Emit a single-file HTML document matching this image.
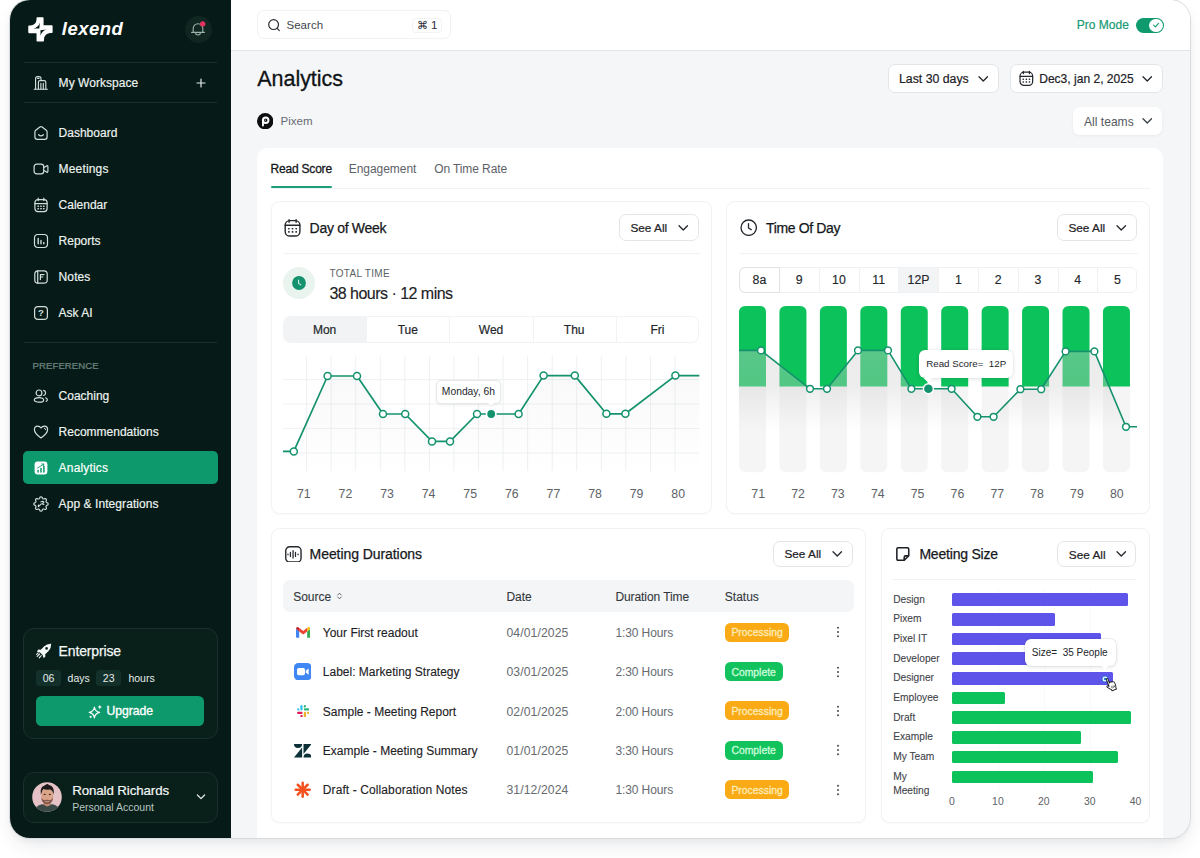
<!DOCTYPE html>
<html lang="en"><head><meta charset="utf-8"><title>Lexend Analytics</title>
<style>
*{box-sizing:border-box;margin:0;padding:0}
html,body{width:1200px;height:858px;overflow:hidden;background:#fff;font-family:"Liberation Sans", sans-serif;}
.b{position:absolute;display:block}
.t{position:absolute;white-space:nowrap;}
#win{position:absolute;left:9.7px;top:0.4px;width:1180.7px;height:837.8px;border-radius:20px;overflow:hidden;background:#f5f6f8;
  box-shadow:0 0 0 1px #d9dcdf, 0 10px 20px -4px rgba(40,50,60,.11), 0 3px 6px rgba(40,50,60,.05);}
#in{position:absolute;left:-9.7px;top:-0.4px;width:1200px;height:858px}
</style></head><body>
<div id="win"><div id="in">
<div class="b" style="left:0.00px;top:-2.00px;width:230.50px;height:862.00px;background:#061b17;"></div>
<div class="b" style="left:230.50px;top:-2.00px;width:969.50px;height:52.00px;background:#fff;border-bottom:1px solid #e2e5e8;height:52.5px"></div>
<div class="b" style="left:257.00px;top:148.00px;width:906.00px;height:722.00px;background:#fff;border-radius:10px;"></div>
<svg class="b" style="left:28.40px;top:17.00px;" width="24.8" height="24.8" viewBox="0 0 25 24.8" fill="none"><path d="M9.4 0.2 H14.9 Q15.7 0.2 15.7 1 V8.1 H24 Q24.8 8.1 24.8 8.9 V15.2 Q24.8 16 24 16 H22.6 A6.5 6.5 0 0 0 16.1 22.5 V23.8 Q16.1 24.6 15.3 24.6 H9.4 Q8.6 24.6 8.6 23.8 V16.2 H1.06 Q0.26 16.2 0.26 15.4 V9.3 Q0.26 8.5 1.06 8.5 H2.5 A6.1 6.1 0 0 0 8.6 2.4 V1 Q8.6 0.2 9.4 0.2Z" fill="#fff"/><path d="M5.5 11.5 Q10.7 10.3 11.9 5.5 L11.45 11.6Z M12.55 13.15 L19 12.6 Q13.8 13.9 12.65 18.9Z" fill="#061b17"/></svg>
<div class="t" style="top:18.60px;height:20px;line-height:20px;font-size:18.5px;color:#fff;font-weight:700;letter-spacing:0.5px;left:61.80px;font-style:italic;">lexend</div>
<div class="b" style="left:185.00px;top:16.00px;width:27.00px;height:27.00px;background:#0f2621;border-radius:50%;"></div>
<svg class="b" style="left:190.40px;top:20.80px;" width="16" height="16" viewBox="0 0 16 16" fill="none"><path d="M3.2 11.2 V7.6 a4.8 4.8 0 0 1 9.6 0 V11.2 M1.6 11.4 H14.4 M5.6 11.6 a2.4 2.4 0 0 0 4.8 0" stroke="#9eb2ab" stroke-width="1.1" stroke-linecap="round" stroke-linejoin="round"/><circle cx="12.7" cy="2.9" r="2.7" fill="#e0315f"/></svg>
<div class="b" style="left:24.00px;top:62.00px;width:192.50px;height:1.00px;background:#18302b;"></div>
<div class="b" style="left:24.00px;top:102.00px;width:192.50px;height:1.00px;background:#18302b;"></div>
<div class="b" style="left:24.00px;top:342.30px;width:192.50px;height:1.00px;background:#18302b;"></div>
<svg class="b" style="left:33.00px;top:74.50px;" width="16" height="16" viewBox="0 0 16 16" fill="none"><g stroke="#d3dedb" stroke-width="1.15" stroke-linecap="round" stroke-linejoin="round"><path d="M2.6 14 V3.6 Q2.6 1.6 4.6 1.6 H6 Q8 1.6 8 3.6 V5.4"/><path d="M4.6 3.4 H6"/><path d="M5.4 14 V7.2 Q5.4 5.6 7 5.6 H11.2 Q12.8 5.6 12.8 7.2 V14"/><path d="M7.9 8.4 V14 M10.3 8.4 V14"/><path d="M1.2 14.2 H14.4"/></g></svg>
<div class="t" style="top:72.50px;height:20px;line-height:20px;font-size:12px;color:#eef3f1;letter-spacing:0.05px;-webkit-text-stroke:0.17px #eef3f1;left:58.60px;">My Workspace</div>
<svg class="b" style="left:195.50px;top:77.50px;" width="10" height="10" viewBox="0 0 10 10" fill="none"><path d="M5 1 V9 M1 5 H9" stroke="#e6ecea" stroke-width="1.2" stroke-linecap="round"/></svg>
<div class="b" style="left:22.60px;top:451.20px;width:195.10px;height:32.80px;background:#0d996c;border-radius:5px;"></div>
<svg class="b" style="left:32.50px;top:124.50px;" width="16" height="16" viewBox="0 0 16 16" fill="none"><g stroke="#d3dedb" stroke-width="1.2" stroke-linecap="round" stroke-linejoin="round"><path d="M1.9 6.9 Q1.9 5.9 2.7 5.3 L6.9 2 Q8 1.2 9.1 2 L13.3 5.3 Q14.1 5.9 14.1 6.9 V12 Q14.1 14.4 11.7 14.4 H4.3 Q1.9 14.4 1.9 12Z"/><path d="M5.6 9.7 Q8 11.9 10.4 9.7"/></g></svg>
<div class="t" style="top:122.50px;height:20px;line-height:20px;font-size:12px;color:#eef3f1;-webkit-text-stroke:0.17px #eef3f1;left:58.60px;">Dashboard</div>
<svg class="b" style="left:32.50px;top:160.50px;" width="16" height="16" viewBox="0 0 16 16" fill="none"><g stroke="#d3dedb" stroke-width="1.2" stroke-linecap="round" stroke-linejoin="round"><rect x="1.1" y="3.2" width="9.6" height="9.6" rx="2.6"/><path d="M10.9 6.6 L13.6 4.9 Q14.9 4.3 14.9 5.7 V10.3 Q14.9 11.7 13.6 11.1 L10.9 9.4"/></g></svg>
<div class="t" style="top:158.50px;height:20px;line-height:20px;font-size:12px;color:#eef3f1;letter-spacing:0.16px;-webkit-text-stroke:0.17px #eef3f1;left:58.60px;">Meetings</div>
<svg class="b" style="left:32.50px;top:196.50px;" width="16" height="16" viewBox="0 0 16 16" fill="none"><g stroke="#d3dedb" stroke-width="1.2" stroke-linecap="round" stroke-linejoin="round"><rect x="1.9" y="2.6" width="12.2" height="12" rx="3"/><path d="M1.9 6.6 H14.1 M5.2 1.2 V3.6 M10.8 1.2 V3.6"/><path d="M5 9.2 H5.4 M7.8 9.2 H8.2 M10.6 9.2 H11 M5 11.8 H5.4 M7.8 11.8 H8.2 M10.6 11.8 H11" stroke-width="1.5"/></g></svg>
<div class="t" style="top:194.50px;height:20px;line-height:20px;font-size:12px;color:#eef3f1;-webkit-text-stroke:0.17px #eef3f1;left:58.60px;">Calendar</div>
<svg class="b" style="left:32.50px;top:232.50px;" width="16" height="16" viewBox="0 0 16 16" fill="none"><g stroke="#d3dedb" stroke-width="1.2" stroke-linecap="round" stroke-linejoin="round"><rect x="1.5" y="1.5" width="13" height="13" rx="3.4"/><path d="M5.2 5.4 V10.8 M8 7.4 V10.8 M10.8 9.4 V10.8" stroke-width="1.4"/></g></svg>
<div class="t" style="top:230.50px;height:20px;line-height:20px;font-size:12px;color:#eef3f1;-webkit-text-stroke:0.17px #eef3f1;left:58.60px;">Reports</div>
<svg class="b" style="left:32.50px;top:268.50px;" width="16" height="16" viewBox="0 0 16 16" fill="none"><g stroke="#d3dedb" stroke-width="1.2" stroke-linecap="round" stroke-linejoin="round"><rect x="1.8" y="1.8" width="12.4" height="12.4" rx="3.2"/><path d="M4.7 1.8 V14.2 M7.4 5.6 H11 M7.4 5.6 V10.6 M7.4 8 H9.8"/></g></svg>
<div class="t" style="top:266.50px;height:20px;line-height:20px;font-size:12px;color:#eef3f1;letter-spacing:0.1px;-webkit-text-stroke:0.17px #eef3f1;left:58.60px;">Notes</div>
<svg class="b" style="left:32.50px;top:304.80px;" width="16" height="16" viewBox="0 0 16 16" fill="none"><g stroke="#d3dedb" stroke-width="1.2" stroke-linecap="round" stroke-linejoin="round"><rect x="1.6" y="1.6" width="12.8" height="12.8" rx="3.2"/><text x="8" y="11.3" text-anchor="middle" font-family="Liberation Sans, sans-serif" font-size="9.6" font-weight="700" fill="#d3dedb" stroke="none">?</text></g></svg>
<div class="t" style="top:302.80px;height:20px;line-height:20px;font-size:12px;color:#eef3f1;-webkit-text-stroke:0.17px #eef3f1;left:58.60px;">Ask AI</div>
<svg class="b" style="left:32.50px;top:387.60px;" width="16" height="16" viewBox="0 0 16 16" fill="none"><g stroke="#d3dedb" stroke-width="1.2" stroke-linecap="round" stroke-linejoin="round"><circle cx="6" cy="4.9" r="2.9"/><ellipse cx="6" cy="11.9" rx="4.7" ry="2.3"/><path d="M10.6 2.3 Q12.6 2.8 12.6 4.9 Q12.6 7 10.6 7.5 M12.6 9.8 Q14.6 10.6 14.4 12 Q14.2 13 13.2 13.4"/></g></svg>
<div class="t" style="top:385.60px;height:20px;line-height:20px;font-size:12px;color:#eef3f1;-webkit-text-stroke:0.17px #eef3f1;left:58.60px;">Coaching</div>
<svg class="b" style="left:32.50px;top:423.60px;" width="16" height="16" viewBox="0 0 16 16" fill="none"><g stroke="#d3dedb" stroke-width="1.2" stroke-linecap="round" stroke-linejoin="round"><path d="M8 14 Q1.4 9.6 1.4 5.6 Q1.4 2.2 4.6 2.2 Q6.8 2.2 8 4 Q9.2 2.2 11.4 2.2 Q14.6 2.2 14.6 5.6 Q14.6 9.6 8 14Z"/><path d="M11.3 4.1 Q12.6 4.3 12.8 5.7" stroke-width="1"/></g></svg>
<div class="t" style="top:421.60px;height:20px;line-height:20px;font-size:12px;color:#eef3f1;-webkit-text-stroke:0.17px #eef3f1;left:58.60px;">Recommendations</div>
<svg class="b" style="left:32.50px;top:459.60px;" width="16" height="16" viewBox="0 0 16 16" fill="none"><rect x="1.6" y="1.6" width="12.8" height="12.8" rx="3" fill="#fff"/><path d="M5.1 12 V10.4 M8 12 V8.6 M10.9 12 V6.6" stroke="#0d996c" stroke-width="1.5" stroke-linecap="round"/><path d="M4.6 8 L10.6 4.2 M8.8 4 L10.8 4 L10.6 6" stroke="#0d996c" stroke-width="0.9" stroke-linecap="round" stroke-linejoin="round"/></svg>
<div class="t" style="top:457.60px;height:20px;line-height:20px;font-size:12px;color:#fff;letter-spacing:0.18px;-webkit-text-stroke:0.17px #fff;left:58.60px;">Analytics</div>
<svg class="b" style="left:32.50px;top:495.60px;" width="16" height="16" viewBox="0 0 16 16" fill="none"><g stroke="#d3dedb" stroke-width="1.2" stroke-linecap="round" stroke-linejoin="round"><path d="M8.00 0.90 L8.28 0.91 L8.56 0.95 L8.82 1.04 L9.06 1.28 L9.24 1.77 L9.38 2.27 L9.54 2.52 L9.74 2.65 L9.94 2.74 L10.14 2.83 L10.35 2.91 L10.55 2.99 L10.78 3.04 L11.08 2.97 L11.53 2.72 L12.00 2.49 L12.34 2.49 L12.60 2.62 L12.82 2.79 L13.02 2.98 L13.21 3.18 L13.38 3.40 L13.51 3.66 L13.51 4.00 L13.28 4.47 L13.03 4.92 L12.96 5.22 L13.01 5.45 L13.09 5.65 L13.17 5.86 L13.26 6.06 L13.35 6.26 L13.48 6.46 L13.73 6.62 L14.23 6.76 L14.72 6.94 L14.96 7.18 L15.05 7.44 L15.09 7.72 L15.10 8.00 L15.09 8.28 L15.05 8.56 L14.96 8.82 L14.72 9.06 L14.23 9.24 L13.73 9.38 L13.48 9.54 L13.35 9.74 L13.26 9.94 L13.17 10.14 L13.09 10.35 L13.01 10.55 L12.96 10.78 L13.03 11.08 L13.28 11.53 L13.51 12.00 L13.51 12.34 L13.38 12.60 L13.21 12.82 L13.02 13.02 L12.82 13.21 L12.60 13.38 L12.34 13.51 L12.00 13.51 L11.53 13.28 L11.08 13.03 L10.78 12.96 L10.55 13.01 L10.35 13.09 L10.14 13.17 L9.94 13.26 L9.74 13.35 L9.54 13.48 L9.38 13.73 L9.24 14.23 L9.06 14.72 L8.82 14.96 L8.56 15.05 L8.28 15.09 L8.00 15.10 L7.72 15.09 L7.44 15.05 L7.18 14.96 L6.94 14.72 L6.76 14.23 L6.62 13.73 L6.46 13.48 L6.26 13.35 L6.06 13.26 L5.86 13.17 L5.65 13.09 L5.45 13.01 L5.22 12.96 L4.92 13.03 L4.47 13.28 L4.00 13.51 L3.66 13.51 L3.40 13.38 L3.18 13.21 L2.98 13.02 L2.79 12.82 L2.62 12.60 L2.49 12.34 L2.49 12.00 L2.72 11.53 L2.97 11.08 L3.04 10.78 L2.99 10.55 L2.91 10.35 L2.83 10.14 L2.74 9.94 L2.65 9.74 L2.52 9.54 L2.27 9.38 L1.77 9.24 L1.28 9.06 L1.04 8.82 L0.95 8.56 L0.91 8.28 L0.90 8.00 L0.91 7.72 L0.95 7.44 L1.04 7.18 L1.28 6.94 L1.77 6.76 L2.27 6.62 L2.52 6.46 L2.65 6.26 L2.74 6.06 L2.83 5.86 L2.91 5.65 L2.99 5.45 L3.04 5.22 L2.97 4.92 L2.72 4.47 L2.49 4.00 L2.49 3.66 L2.62 3.40 L2.79 3.18 L2.98 2.98 L3.18 2.79 L3.40 2.62 L3.66 2.49 L4.00 2.49 L4.47 2.72 L4.92 2.97 L5.22 3.04 L5.45 2.99 L5.65 2.91 L5.86 2.83 L6.06 2.74 L6.26 2.65 L6.46 2.52 L6.62 2.27 L6.76 1.77 L6.94 1.28 L7.18 1.04 L7.44 0.95 L7.72 0.91 L8.00 0.90Z" stroke-width="1.15"/><path d="M5.5 10.7 L8.3 7.9 M7.9 5.9 Q9.6 4.7 11 6.2 L9.4 7.6 Q10 8.6 10.9 8.2 M5.5 10.7 Q4.9 9.9 5.6 9" stroke-width="1.1"/></g></svg>
<div class="t" style="top:493.60px;height:20px;line-height:20px;font-size:12px;color:#eef3f1;letter-spacing:0.07px;-webkit-text-stroke:0.17px #eef3f1;left:58.60px;">App &amp; Integrations</div>
<div class="t" style="top:355.80px;height:20px;line-height:20px;font-size:9.6px;color:#6f8580;letter-spacing:0.05px;-webkit-text-stroke:0.2px #6f8580;left:32.60px;">PREFERENCE</div>
<div class="b" style="left:22.60px;top:628.00px;width:195.00px;height:110.50px;background:#081f1a;border:1px solid #19312c;border-radius:11px;"></div>
<svg class="b" style="left:36.00px;top:643.00px;" width="16" height="16" viewBox="0 0 16 16" fill="none"><path d="M15.2 0.8 Q15.4 5 12.6 8 L9.2 11.2 L9.4 13.6 L7.6 15.2 L6.6 12 L4 9.4 L0.8 8.4 L2.4 6.6 L4.8 6.8 L8 3.4 Q11 0.6 15.2 0.8Z" fill="#f3f7f5"/><circle cx="10.6" cy="5.4" r="1.3" fill="#081f1a"/><path d="M3.6 11 L1.2 13.4 M5.2 12.6 L3.2 14.8 M2.2 9.8 L0.6 11.4" stroke="#f3f7f5" stroke-width="1.1" stroke-linecap="round"/></svg>
<div class="t" style="top:641.00px;height:20px;line-height:20px;font-size:14px;color:#f3f7f5;letter-spacing:-0.14px;-webkit-text-stroke:0.25px #f3f7f5;left:58.60px;">Enterprise</div>
<div class="b" style="left:36.00px;top:670.00px;width:25.20px;height:16.00px;background:#14302a;border-radius:3.5px;"></div>
<div class="t" style="top:668.20px;height:20px;line-height:20px;font-size:10.5px;color:#e6ecea;left:-51.40px;width:200px;text-align:center;">06</div>
<div class="t" style="top:668.20px;height:20px;line-height:20px;font-size:10.5px;color:#e6ecea;left:67.60px;">days</div>
<div class="b" style="left:96.00px;top:670.00px;width:25.40px;height:16.00px;background:#14302a;border-radius:3.5px;"></div>
<div class="t" style="top:668.20px;height:20px;line-height:20px;font-size:10.5px;color:#e6ecea;left:8.70px;width:200px;text-align:center;">23</div>
<div class="t" style="top:668.20px;height:20px;line-height:20px;font-size:10.5px;color:#e6ecea;left:128.40px;">hours</div>
<div class="b" style="left:35.60px;top:696.40px;width:168.60px;height:29.40px;background:#0d996c;border-radius:5.5px;"></div>
<svg class="b" style="left:87.50px;top:703.50px;" width="15" height="15" viewBox="0 0 15 15" fill="none"><path d="M6.4 3 Q7 7.4 11.6 8.4 Q7 9.4 6.4 14 Q5.8 9.4 1.2 8.4 Q5.8 7.4 6.4 3Z" stroke="#f1faf6" stroke-width="1.2" stroke-linejoin="round"/><path d="M11.8 0.8 Q12 2.8 14 3.1 Q12 3.4 11.8 5.4 Q11.6 3.4 9.6 3.1 Q11.6 2.8 11.8 0.8Z" fill="#f1faf6"/><circle cx="2.6" cy="12.8" r="1.1" fill="#f1faf6"/></svg>
<div class="t" style="top:701.00px;height:20px;line-height:20px;font-size:12.2px;color:#fff;-webkit-text-stroke:0.35px #fff;left:106.40px;">Upgrade</div>
<div class="b" style="left:22.60px;top:772.00px;width:195.00px;height:50.50px;background:#081f1a;border:1px solid #19312c;border-radius:11px;"></div>
<svg class="b" style="left:32.00px;top:782.00px;" width="30" height="30" viewBox="0 0 30 30" fill="none"><defs><clipPath id="avc"><circle cx="15" cy="15" r="14.8"/></clipPath></defs><g clip-path="url(#avc)"><rect width="30" height="30" fill="#e4c2c5"/><path d="M1.5 30 Q3 23.6 10 22.2 L20.6 22.2 Q27.4 23.6 28.6 30Z" fill="#3a4a48"/><path d="M11.5 18 H19 V22.6 Q15.3 26.2 11.5 22.6Z" fill="#c48a72"/><ellipse cx="15.2" cy="13.9" rx="6" ry="7.7" fill="#dba388"/><path d="M9.3 15.2 Q9.5 22 15.2 22.3 Q20.9 22 21.1 15.2 Q19.8 18.8 17.4 18 Q15.2 17.4 13 18 Q10.6 18.8 9.3 15.2Z" fill="#83574a"/><path d="M13.2 19.4 Q15.2 20.4 17.2 19.4" stroke="#e9c4b4" stroke-width="0.7" fill="none"/><ellipse cx="12.7" cy="12.4" rx="1.1" ry="0.55" fill="#3b2a25"/><ellipse cx="17.8" cy="12.4" rx="1.1" ry="0.55" fill="#3b2a25"/><path d="M8.9 12.8 Q7.6 4.8 12.6 3.6 Q15.2 0.9 17 3 Q22.9 4 21.6 12.8 Q20.8 8.6 18.2 7.5 Q13.6 7.9 11.4 7.1 Q9.8 8.9 8.9 12.8Z" fill="#1f1a19"/></g></svg>
<div class="t" style="top:781.00px;height:20px;line-height:20px;font-size:13.3px;color:#f3f7f5;letter-spacing:-0.1px;-webkit-text-stroke:0.2px #f3f7f5;left:72.20px;">Ronald Richards</div>
<div class="t" style="top:797.00px;height:20px;line-height:20px;font-size:10.5px;color:#b9c6c2;left:72.20px;">Personal Account</div>
<svg class="b" style="left:196.00px;top:793.00px;" width="10" height="8" viewBox="0 0 10 8" fill="none"><path d="M1.4 2 L5 5.6 L8.6 2" stroke="#e6ecea" stroke-width="1.3" stroke-linecap="round" stroke-linejoin="round"/></svg>
<div class="b" style="left:257.20px;top:10.20px;width:194.20px;height:29.10px;background:#fff;border:1px solid #f0f2f3;border-radius:7px;"></div>
<svg class="b" style="left:266.60px;top:18.40px;" width="14" height="14" viewBox="0 0 14 14" fill="none"><circle cx="6.6" cy="6.6" r="4.9" stroke="#2a2e33" stroke-width="1.2"/><path d="M10.2 10.4 L12.3 12.6" stroke="#2a2e33" stroke-width="1.2" stroke-linecap="round"/></svg>
<div class="t" style="top:15.10px;height:20px;line-height:20px;font-size:11.55px;color:#41464b;left:286.50px;">Search</div>
<div class="b" style="left:412.00px;top:18.00px;width:30.00px;height:14.50px;background:#fff;border:1px solid #f2f3f5;border-radius:4px;"></div>
<div class="t" style="top:15.30px;height:20px;line-height:20px;font-size:11.2px;color:#2a2e33;left:417.20px;font-family:"DejaVu Sans","Liberation Sans",sans-serif;">&#8984;</div>
<div class="t" style="top:15.30px;height:20px;line-height:20px;font-size:11.5px;color:#2a2e33;left:431.00px;">1</div>
<div class="t" style="top:15.30px;height:20px;line-height:20px;font-size:12px;color:#179a72;-webkit-text-stroke:0.2px #179a72;left:1076.80px;">Pro Mode</div>
<div class="b" style="left:1135.50px;top:17.80px;width:28.30px;height:15.20px;background:#0f9a6e;border-radius:8px;"></div>
<div class="b" style="left:1148.90px;top:18.50px;width:13.80px;height:13.80px;background:#fff;border-radius:50%;"></div>
<svg class="b" style="left:1151.80px;top:21.40px;" width="8" height="8" viewBox="0 0 8 8" fill="none"><path d="M1.6 4.2 L3.4 5.9 L6.5 2.3" stroke="#0f9a6e" stroke-width="1.1" stroke-linecap="round" stroke-linejoin="round"/></svg>
<div class="t" style="top:69.20px;height:20px;line-height:20px;font-size:21.5px;color:#101316;letter-spacing:-0.05px;-webkit-text-stroke:0.3px #101316;left:257.30px;">Analytics</div>
<div class="b" style="left:888.00px;top:64.00px;width:111.00px;height:29.00px;background:#fff;border:1px solid #e3e6e9;border-radius:7px;"></div>
<div class="t" style="top:69.30px;height:20px;line-height:20px;font-size:12.3px;color:#1d2125;-webkit-text-stroke:0.2px #1d2125;left:899.00px;">Last 30 days</div>
<svg class="b" style="left:978.00px;top:74.70px;" width="10.5" height="8" viewBox="0 0 10.5 8" fill="none"><path d="M1 1.8 L5.25 6 L9.5 1.8" stroke="#24282c" stroke-width="1.3" stroke-linecap="round" stroke-linejoin="round"/></svg>
<div class="b" style="left:1009.80px;top:64.00px;width:153.20px;height:29.00px;background:#fff;border:1px solid #e3e6e9;border-radius:7px;"></div>
<svg class="b" style="left:1018.90px;top:70.40px;" width="14.62" height="16.34" viewBox="0 0 17 19" fill="none"><g stroke="#24282c" stroke-width="1.45" stroke-linecap="round" stroke-linejoin="round"><rect x="1.2" y="2.6" width="14.7" height="15.4" rx="4.6"/><path d="M1.2 7.3 H15.9 M5.1 1.7 V4.2 M12.1 1.7 V4.2"/><path d="M4.75 10.7 H5.05 M8.4 10.7 H8.7 M12.05 10.7 H12.35 M4.75 13.9 H5.05 M8.4 13.9 H8.7 M12.05 13.9 H12.35" stroke-width="1.7"/></g></svg>
<div class="t" style="top:69.30px;height:20px;line-height:20px;font-size:12.05px;color:#1d2125;-webkit-text-stroke:0.2px #1d2125;left:1039.20px;">Dec3, jan 2, 2025</div>
<svg class="b" style="left:1141.60px;top:74.70px;" width="10.5" height="8" viewBox="0 0 10.5 8" fill="none"><path d="M1 1.8 L5.25 6 L9.5 1.8" stroke="#24282c" stroke-width="1.3" stroke-linecap="round" stroke-linejoin="round"/></svg>
<svg class="b" style="left:257.00px;top:112.60px;" width="16.4" height="16.4" viewBox="0 0 16.4 16.4" fill="none"><circle cx="8.2" cy="8.2" r="8.2" fill="#0c0e10"/><circle cx="8.7" cy="7.2" r="2.75" stroke="#fff" stroke-width="1.9"/><path d="M5.95 7.2 V12.6" stroke="#fff" stroke-width="1.9" stroke-linecap="round"/><circle cx="8.3" cy="7.1" r="0.7" fill="#fff"/></svg>
<div class="t" style="top:110.70px;height:20px;line-height:20px;font-size:11.55px;color:#666b70;left:280.50px;">Pixem</div>
<div class="b" style="left:1073.00px;top:107.20px;width:88.60px;height:27.60px;background:#fff;border-radius:7px;box-shadow:0 1px 3px rgba(30,40,50,.06);"></div>
<div class="t" style="top:111.60px;height:20px;line-height:20px;font-size:12.1px;color:#54595e;left:1084.00px;">All teams</div>
<svg class="b" style="left:1141.60px;top:117.00px;" width="10.5" height="8" viewBox="0 0 10.5 8" fill="none"><path d="M1 1.8 L5.25 6 L9.5 1.8" stroke="#3a3f44" stroke-width="1.3" stroke-linecap="round" stroke-linejoin="round"/></svg>
<div class="t" style="top:158.80px;height:20px;line-height:20px;font-size:12px;color:#15181b;letter-spacing:-0.2px;-webkit-text-stroke:0.3px #15181b;left:270.50px;">Read Score</div>
<div class="t" style="top:158.80px;height:20px;line-height:20px;font-size:12px;color:#5d6267;letter-spacing:-0.05px;left:348.80px;">Engagement</div>
<div class="t" style="top:158.80px;height:20px;line-height:20px;font-size:12px;color:#5d6267;letter-spacing:-0.1px;left:434.20px;">On Time Rate</div>
<div class="b" style="left:270.50px;top:187.60px;width:879.50px;height:1.00px;background:#f0f2f3;"></div>
<div class="b" style="left:270.50px;top:185.60px;width:61.50px;height:2.00px;background:#1a9e77;border-radius:1px;"></div>
<div class="b" style="left:270.80px;top:201.30px;width:441.60px;height:312.90px;background:#fff;border:1px solid #f0f2f3;border-radius:8.5px;box-shadow:0 1px 2px rgba(30,40,50,.025);"></div>
<svg class="b" style="left:284.10px;top:218.00px;" width="17.0" height="19.0" viewBox="0 0 17 19" fill="none"><g stroke="#24282c" stroke-width="1.4" stroke-linecap="round" stroke-linejoin="round"><rect x="1.2" y="2.6" width="14.7" height="15.4" rx="4.6"/><path d="M1.2 7.3 H15.9 M5.1 1.7 V4.2 M12.1 1.7 V4.2"/><path d="M4.75 10.7 H5.05 M8.4 10.7 H8.7 M12.05 10.7 H12.35 M4.75 13.9 H5.05 M8.4 13.9 H8.7 M12.05 13.9 H12.35" stroke-width="1.65"/></g></svg>
<div class="t" style="top:218.00px;height:20px;line-height:20px;font-size:14px;color:#15181b;letter-spacing:-0.3px;-webkit-text-stroke:0.25px #15181b;left:309.60px;">Day of Week</div>
<div class="b" style="left:619.00px;top:214.30px;width:79.60px;height:26.30px;background:#fff;border:1px solid #e3e6e9;border-radius:7px;"></div>
<div class="t" style="top:218.15px;height:20px;line-height:20px;font-size:11.8px;color:#1d2125;-webkit-text-stroke:0.2px #1d2125;left:630.40px;">See All</div>
<svg class="b" style="left:678.00px;top:223.75px;" width="10.5" height="8" viewBox="0 0 10.5 8" fill="none"><path d="M1 1.8 L5.25 6 L9.5 1.8" stroke="#24282c" stroke-width="1.3" stroke-linecap="round" stroke-linejoin="round"/></svg>
<div class="b" style="left:284.00px;top:253.00px;width:415.60px;height:1.00px;background:#f0f2f3;"></div>
<div class="b" style="left:283.40px;top:267.00px;width:32.00px;height:32.00px;background:#e9f4ee;border-radius:50%;"></div>
<svg class="b" style="left:292.40px;top:276.00px;" width="14" height="14" viewBox="0 0 14 14" fill="none"><circle cx="7" cy="7" r="6.9" fill="#14926d"/><path d="M6.6 3.9 V7.4 L8.8 8.9" stroke="#dff3ea" stroke-width="1.05" stroke-linecap="round" stroke-linejoin="round"/></svg>
<div class="t" style="top:264.00px;height:20px;line-height:20px;font-size:10px;color:#5a5f64;letter-spacing:0.32px;left:329.40px;">TOTAL TIME</div>
<div class="t" style="top:284.40px;height:20px;line-height:20px;font-size:16px;color:#1d2125;letter-spacing:-0.52px;-webkit-text-stroke:0.15px #1d2125;left:329.40px;">38 hours · 12 mins</div>
<div class="b" style="left:283.00px;top:316.00px;width:416.00px;height:26.60px;background:#fff;border:1px solid #f2f3f5;border-radius:7px;overflow:hidden;"><div class="b" style="left:-1px;top:-1px;width:84px;height:27px;background:#f2f3f4"></div><div class="b" style="left:165.4px;top:0;width:1px;height:26px;background:#f2f3f5"></div><div class="b" style="left:248.6px;top:0;width:1px;height:26px;background:#f2f3f5"></div><div class="b" style="left:331.8px;top:0;width:1px;height:26px;background:#f2f3f5"></div></div>
<div class="t" style="top:319.80px;height:20px;line-height:20px;font-size:12px;color:#23272b;-webkit-text-stroke:0.2px #23272b;left:224.60px;width:200px;text-align:center;">Mon</div>
<div class="t" style="top:319.80px;height:20px;line-height:20px;font-size:12px;color:#23272b;-webkit-text-stroke:0.2px #23272b;left:307.80px;width:200px;text-align:center;">Tue</div>
<div class="t" style="top:319.80px;height:20px;line-height:20px;font-size:12px;color:#23272b;-webkit-text-stroke:0.2px #23272b;left:391.00px;width:200px;text-align:center;">Wed</div>
<div class="t" style="top:319.80px;height:20px;line-height:20px;font-size:12px;color:#23272b;-webkit-text-stroke:0.2px #23272b;left:474.20px;width:200px;text-align:center;">Thu</div>
<div class="t" style="top:319.80px;height:20px;line-height:20px;font-size:12px;color:#23272b;-webkit-text-stroke:0.2px #23272b;left:557.40px;width:200px;text-align:center;">Fri</div>
<svg class="b" style="left:283.00px;top:340.00px;" width="417" height="140" viewBox="0 0 417 140" fill="none"><defs><linearGradient id="a1" x1="0" y1="0" x2="0" y2="1"><stop offset="0" stop-color="#bbb" stop-opacity="0.09"/><stop offset="1" stop-color="#bbb" stop-opacity="0"/></linearGradient></defs><g stroke="#eef0f1" stroke-width="1"><path d="M23.60 16 V131" /><path d="M48.16 16 V131" /><path d="M72.72 16 V131" /><path d="M97.28 16 V131" /><path d="M121.84 16 V131" /><path d="M146.40 16 V131" /><path d="M170.96 16 V131" /><path d="M195.52 16 V131" /><path d="M220.08 16 V131" /><path d="M244.64 16 V131" /><path d="M269.20 16 V131" /><path d="M293.76 16 V131" /><path d="M318.32 16 V131" /><path d="M342.88 16 V131" /><path d="M367.44 16 V131" /><path d="M392.00 16 V131" /><path d="M0 39.60 H416.5" /><path d="M0 64.00 H416.5" /><path d="M0 88.40 H416.5" /><path d="M0 113.00 H416.5" /></g><path d="M0.00 111.40 L10.80 111.40 L44.60 36.00 L74.00 36.00 L100.00 74.00 L122.20 74.00 L149.00 101.40 L167.00 101.40 L194.00 74.00 L208.20 74.00 L235.60 74.00 L260.60 35.60 L291.80 35.60 L323.40 73.80 L342.40 73.80 L392.40 35.60 L416.40 35.60 L416.4 131 L0 131Z" fill="url(#a1)"/><path d="M0.00 111.40 L10.80 111.40 L44.60 36.00 L74.00 36.00 L100.00 74.00 L122.20 74.00 L149.00 101.40 L167.00 101.40 L194.00 74.00 L208.20 74.00 L235.60 74.00 L260.60 35.60 L291.80 35.60 L323.40 73.80 L342.40 73.80 L392.40 35.60 L416.40 35.60" stroke="#14926d" stroke-width="1.7" stroke-linejoin="round"/><circle cx="10.80" cy="111.40" r="3.5" fill="#fff" stroke="#14926d" stroke-width="1.5"/><circle cx="44.60" cy="36.00" r="3.5" fill="#fff" stroke="#14926d" stroke-width="1.5"/><circle cx="74.00" cy="36.00" r="3.5" fill="#fff" stroke="#14926d" stroke-width="1.5"/><circle cx="100.00" cy="74.00" r="3.5" fill="#fff" stroke="#14926d" stroke-width="1.5"/><circle cx="122.20" cy="74.00" r="3.5" fill="#fff" stroke="#14926d" stroke-width="1.5"/><circle cx="149.00" cy="101.40" r="3.5" fill="#fff" stroke="#14926d" stroke-width="1.5"/><circle cx="167.00" cy="101.40" r="3.5" fill="#fff" stroke="#14926d" stroke-width="1.5"/><circle cx="194.00" cy="74.00" r="3.5" fill="#fff" stroke="#14926d" stroke-width="1.5"/><circle cx="208.20" cy="74.00" r="4.7" fill="#14926d" stroke="#fff" stroke-width="1.6"/><circle cx="235.60" cy="74.00" r="3.5" fill="#fff" stroke="#14926d" stroke-width="1.5"/><circle cx="260.60" cy="35.60" r="3.5" fill="#fff" stroke="#14926d" stroke-width="1.5"/><circle cx="291.80" cy="35.60" r="3.5" fill="#fff" stroke="#14926d" stroke-width="1.5"/><circle cx="323.40" cy="73.80" r="3.5" fill="#fff" stroke="#14926d" stroke-width="1.5"/><circle cx="342.40" cy="73.80" r="3.5" fill="#fff" stroke="#14926d" stroke-width="1.5"/><circle cx="392.40" cy="35.60" r="3.5" fill="#fff" stroke="#14926d" stroke-width="1.5"/></svg>
<div class="b" style="left:435.60px;top:380.00px;width:65.60px;height:23.60px;background:#fff;border:1px solid #e6e8ea;border-radius:5px;box-shadow:0 1px 3px rgba(30,40,50,.08);"></div>
<svg class="b" style="left:486.00px;top:402.40px;" width="10" height="6" viewBox="0 0 10 6" fill="none"><path d="M0.5 0 L5 4.6 L9.5 0" fill="#fff" stroke="#e6e8ea" stroke-width="1" stroke-linejoin="round"/><rect x="0" y="-1" width="10" height="1.6" fill="#fff"/></svg>
<div class="t" style="top:381.70px;height:20px;line-height:20px;font-size:10.3px;color:#23272b;left:368.40px;width:200px;text-align:center;">Monday, 6h</div>
<div class="t" style="top:483.60px;height:20px;line-height:20px;font-size:12.3px;color:#5d6267;left:203.80px;width:200px;text-align:center;">71</div>
<div class="t" style="top:483.60px;height:20px;line-height:20px;font-size:12.3px;color:#5d6267;left:245.40px;width:200px;text-align:center;">72</div>
<div class="t" style="top:483.60px;height:20px;line-height:20px;font-size:12.3px;color:#5d6267;left:287.00px;width:200px;text-align:center;">73</div>
<div class="t" style="top:483.60px;height:20px;line-height:20px;font-size:12.3px;color:#5d6267;left:328.60px;width:200px;text-align:center;">74</div>
<div class="t" style="top:483.60px;height:20px;line-height:20px;font-size:12.3px;color:#5d6267;left:370.20px;width:200px;text-align:center;">75</div>
<div class="t" style="top:483.60px;height:20px;line-height:20px;font-size:12.3px;color:#5d6267;left:411.80px;width:200px;text-align:center;">76</div>
<div class="t" style="top:483.60px;height:20px;line-height:20px;font-size:12.3px;color:#5d6267;left:453.40px;width:200px;text-align:center;">77</div>
<div class="t" style="top:483.60px;height:20px;line-height:20px;font-size:12.3px;color:#5d6267;left:495.00px;width:200px;text-align:center;">78</div>
<div class="t" style="top:483.60px;height:20px;line-height:20px;font-size:12.3px;color:#5d6267;left:536.60px;width:200px;text-align:center;">79</div>
<div class="t" style="top:483.60px;height:20px;line-height:20px;font-size:12.3px;color:#5d6267;left:578.20px;width:200px;text-align:center;">80</div>
<div class="b" style="left:725.90px;top:201.30px;width:424.10px;height:312.90px;background:#fff;border:1px solid #f0f2f3;border-radius:8.5px;box-shadow:0 1px 2px rgba(30,40,50,.025);"></div>
<svg class="b" style="left:740.00px;top:219.00px;" width="17.4" height="17.4" viewBox="0 0 17.4 17.4" fill="none"><circle cx="8.7" cy="8.7" r="7.7" stroke="#24282c" stroke-width="1.3"/><path d="M8.5 4.6 V9 L11.2 10.6" stroke="#24282c" stroke-width="1.3" stroke-linecap="round" stroke-linejoin="round"/></svg>
<div class="t" style="top:218.00px;height:20px;line-height:20px;font-size:14px;color:#15181b;letter-spacing:-0.36px;-webkit-text-stroke:0.25px #15181b;left:766.00px;">Time Of Day</div>
<div class="b" style="left:1057.00px;top:214.30px;width:79.60px;height:26.30px;background:#fff;border:1px solid #e3e6e9;border-radius:7px;"></div>
<div class="t" style="top:218.15px;height:20px;line-height:20px;font-size:11.8px;color:#1d2125;-webkit-text-stroke:0.2px #1d2125;left:1068.40px;">See All</div>
<svg class="b" style="left:1116.00px;top:223.75px;" width="10.5" height="8" viewBox="0 0 10.5 8" fill="none"><path d="M1 1.8 L5.25 6 L9.5 1.8" stroke="#24282c" stroke-width="1.3" stroke-linecap="round" stroke-linejoin="round"/></svg>
<div class="b" style="left:739.60px;top:253.00px;width:398.40px;height:1.00px;background:#f0f2f3;"></div>
<div class="b" style="left:739.40px;top:267.40px;width:397.80px;height:25.20px;background:#fff;border:1px solid #eff1f2;border-radius:6px;overflow:hidden;"><div class="b" style="left:158.6px;top:-1px;width:39.8px;height:26px;background:#f3f4f5"></div><div class="b" style="left:38.8px;top:0;width:1px;height:25px;background:#eff1f2"></div><div class="b" style="left:78.6px;top:0;width:1px;height:25px;background:#eff1f2"></div><div class="b" style="left:118.3px;top:0;width:1px;height:25px;background:#eff1f2"></div><div class="b" style="left:158.1px;top:0;width:1px;height:25px;background:#eff1f2"></div><div class="b" style="left:197.9px;top:0;width:1px;height:25px;background:#eff1f2"></div><div class="b" style="left:237.7px;top:0;width:1px;height:25px;background:#eff1f2"></div><div class="b" style="left:277.5px;top:0;width:1px;height:25px;background:#eff1f2"></div><div class="b" style="left:317.2px;top:0;width:1px;height:25px;background:#eff1f2"></div><div class="b" style="left:357.0px;top:0;width:1px;height:25px;background:#eff1f2"></div></div>
<div class="b" style="left:739.40px;top:267.40px;width:40.20px;height:25.20px;border:1px solid #e0e3e6;border-radius:6px 0 0 6px;"></div>
<div class="t" style="top:270.20px;height:20px;line-height:20px;font-size:12.3px;color:#23272b;-webkit-text-stroke:0.15px #23272b;left:659.40px;width:200px;text-align:center;">8a</div>
<div class="t" style="top:270.20px;height:20px;line-height:20px;font-size:12.3px;color:#23272b;-webkit-text-stroke:0.15px #23272b;left:699.18px;width:200px;text-align:center;">9</div>
<div class="t" style="top:270.20px;height:20px;line-height:20px;font-size:12.3px;color:#23272b;-webkit-text-stroke:0.15px #23272b;left:738.96px;width:200px;text-align:center;">10</div>
<div class="t" style="top:270.20px;height:20px;line-height:20px;font-size:12.3px;color:#23272b;-webkit-text-stroke:0.15px #23272b;left:778.74px;width:200px;text-align:center;">11</div>
<div class="t" style="top:270.20px;height:20px;line-height:20px;font-size:12.3px;color:#23272b;-webkit-text-stroke:0.15px #23272b;left:818.52px;width:200px;text-align:center;">12P</div>
<div class="t" style="top:270.20px;height:20px;line-height:20px;font-size:12.3px;color:#23272b;-webkit-text-stroke:0.15px #23272b;left:858.30px;width:200px;text-align:center;">1</div>
<div class="t" style="top:270.20px;height:20px;line-height:20px;font-size:12.3px;color:#23272b;-webkit-text-stroke:0.15px #23272b;left:898.08px;width:200px;text-align:center;">2</div>
<div class="t" style="top:270.20px;height:20px;line-height:20px;font-size:12.3px;color:#23272b;-webkit-text-stroke:0.15px #23272b;left:937.86px;width:200px;text-align:center;">3</div>
<div class="t" style="top:270.20px;height:20px;line-height:20px;font-size:12.3px;color:#23272b;-webkit-text-stroke:0.15px #23272b;left:977.64px;width:200px;text-align:center;">4</div>
<div class="t" style="top:270.20px;height:20px;line-height:20px;font-size:12.3px;color:#23272b;-webkit-text-stroke:0.15px #23272b;left:1017.42px;width:200px;text-align:center;">5</div>
<svg class="b" style="left:735.00px;top:300.00px;" width="410" height="180" viewBox="0 0 410 180" fill="none"><defs><linearGradient id="ag" gradientUnits="userSpaceOnUse" x1="0" y1="50" x2="0" y2="140"><stop offset="0" stop-color="#cecece" stop-opacity="0.395"/><stop offset="0.4" stop-color="#cecece" stop-opacity="0.36"/><stop offset="0.59" stop-color="#cecece" stop-opacity="0.215"/><stop offset="0.78" stop-color="#cecece" stop-opacity="0.075"/><stop offset="0.91" stop-color="#cecece" stop-opacity="0"/><stop offset="1" stop-color="#cecece" stop-opacity="0"/></linearGradient></defs><rect x="4.00" y="80" width="27" height="92.19999999999999" rx="6.5" fill="#f5f5f6"/><rect x="44.44" y="80" width="27" height="92.19999999999999" rx="6.5" fill="#f5f5f6"/><rect x="84.88" y="80" width="27" height="92.19999999999999" rx="6.5" fill="#f5f5f6"/><rect x="125.32" y="80" width="27" height="92.19999999999999" rx="6.5" fill="#f5f5f6"/><rect x="165.76" y="80" width="27" height="92.19999999999999" rx="6.5" fill="#f5f5f6"/><rect x="206.20" y="80" width="27" height="92.19999999999999" rx="6.5" fill="#f5f5f6"/><rect x="246.64" y="80" width="27" height="92.19999999999999" rx="6.5" fill="#f5f5f6"/><rect x="287.08" y="80" width="27" height="92.19999999999999" rx="6.5" fill="#f5f5f6"/><rect x="327.52" y="80" width="27" height="92.19999999999999" rx="6.5" fill="#f5f5f6"/><rect x="367.96" y="80" width="27" height="92.19999999999999" rx="6.5" fill="#f5f5f6"/><path d="M4.00 86.60000000000002 V12.5 Q4.00 6 10.50 6 H24.50 Q31.00 6 31.00 12.5 V86.60000000000002Z" fill="#0cc25a"/><path d="M44.44 86.60000000000002 V12.5 Q44.44 6 50.94 6 H64.94 Q71.44 6 71.44 12.5 V86.60000000000002Z" fill="#0cc25a"/><path d="M84.88 86.60000000000002 V12.5 Q84.88 6 91.38 6 H105.38 Q111.88 6 111.88 12.5 V86.60000000000002Z" fill="#0cc25a"/><path d="M125.32 86.60000000000002 V12.5 Q125.32 6 131.82 6 H145.82 Q152.32 6 152.32 12.5 V86.60000000000002Z" fill="#0cc25a"/><path d="M165.76 86.60000000000002 V12.5 Q165.76 6 172.26 6 H186.26 Q192.76 6 192.76 12.5 V86.60000000000002Z" fill="#0cc25a"/><path d="M206.20 86.60000000000002 V12.5 Q206.20 6 212.70 6 H226.70 Q233.20 6 233.20 12.5 V86.60000000000002Z" fill="#0cc25a"/><path d="M246.64 86.60000000000002 V12.5 Q246.64 6 253.14 6 H267.14 Q273.64 6 273.64 12.5 V86.60000000000002Z" fill="#0cc25a"/><path d="M287.08 86.60000000000002 V12.5 Q287.08 6 293.58 6 H307.58 Q314.08 6 314.08 12.5 V86.60000000000002Z" fill="#0cc25a"/><path d="M327.52 86.60000000000002 V12.5 Q327.52 6 334.02 6 H348.02 Q354.52 6 354.52 12.5 V86.60000000000002Z" fill="#0cc25a"/><path d="M367.96 86.60000000000002 V12.5 Q367.96 6 374.46 6 H388.46 Q394.96 6 394.96 12.5 V86.60000000000002Z" fill="#0cc25a"/><path d="M4.00 50.40 L26.00 50.40 L75.00 88.80 L92.00 88.80 L123.00 50.40 L153.00 50.40 L176.40 88.80 L193.40 88.80 L216.60 88.80 L242.40 116.80 L258.60 116.80 L285.40 89.20 L306.20 89.20 L330.60 51.40 L359.40 51.40 L391.00 126.80 L402.00 126.80 L402 172 L4 172Z" fill="url(#ag)"/><path d="M4.00 50.40 L26.00 50.40 L75.00 88.80 L92.00 88.80 L123.00 50.40 L153.00 50.40 L176.40 88.80 L193.40 88.80 L216.60 88.80 L242.40 116.80 L258.60 116.80 L285.40 89.20 L306.20 89.20 L330.60 51.40 L359.40 51.40 L391.00 126.80 L402.00 126.80" stroke="#14926d" stroke-width="1.6" stroke-linejoin="round"/><circle cx="26.00" cy="50.40" r="3.4" fill="#fff" stroke="#14926d" stroke-width="1.5"/><circle cx="75.00" cy="88.80" r="3.4" fill="#fff" stroke="#14926d" stroke-width="1.5"/><circle cx="92.00" cy="88.80" r="3.4" fill="#fff" stroke="#14926d" stroke-width="1.5"/><circle cx="123.00" cy="50.40" r="3.4" fill="#fff" stroke="#14926d" stroke-width="1.5"/><circle cx="153.00" cy="50.40" r="3.4" fill="#fff" stroke="#14926d" stroke-width="1.5"/><circle cx="176.40" cy="88.80" r="3.4" fill="#fff" stroke="#14926d" stroke-width="1.5"/><circle cx="193.40" cy="88.80" r="5" fill="#14926d" stroke="#fff" stroke-width="1.4"/><circle cx="216.60" cy="88.80" r="3.4" fill="#fff" stroke="#14926d" stroke-width="1.5"/><circle cx="242.40" cy="116.80" r="3.4" fill="#fff" stroke="#14926d" stroke-width="1.5"/><circle cx="258.60" cy="116.80" r="3.4" fill="#fff" stroke="#14926d" stroke-width="1.5"/><circle cx="285.40" cy="89.20" r="3.4" fill="#fff" stroke="#14926d" stroke-width="1.5"/><circle cx="306.20" cy="89.20" r="3.4" fill="#fff" stroke="#14926d" stroke-width="1.5"/><circle cx="330.60" cy="51.40" r="3.4" fill="#fff" stroke="#14926d" stroke-width="1.5"/><circle cx="359.40" cy="51.40" r="3.4" fill="#fff" stroke="#14926d" stroke-width="1.5"/><circle cx="391.00" cy="126.80" r="3.4" fill="#fff" stroke="#14926d" stroke-width="1.5"/></svg>
<div class="b" style="left:919.00px;top:350.00px;width:94.40px;height:28.40px;background:#fff;border-radius:6px;box-shadow:0 1px 4px rgba(30,40,50,.13),0 0 0 0.5px rgba(30,40,50,.05);"></div>
<svg class="b" style="left:923.40px;top:377.60px;" width="10" height="6" viewBox="0 0 10 6" fill="none"><path d="M0.5 0 L5 4.4 L9.5 0Z" fill="#fff"/></svg>
<div class="t" style="top:353.60px;height:20px;line-height:20px;font-size:9.75px;color:#23272b;left:926.20px;">Read Score=&nbsp; 12P</div>
<div class="t" style="top:483.60px;height:20px;line-height:20px;font-size:12.3px;color:#5d6267;left:658.20px;width:200px;text-align:center;">71</div>
<div class="t" style="top:483.60px;height:20px;line-height:20px;font-size:12.3px;color:#5d6267;left:698.04px;width:200px;text-align:center;">72</div>
<div class="t" style="top:483.60px;height:20px;line-height:20px;font-size:12.3px;color:#5d6267;left:737.88px;width:200px;text-align:center;">73</div>
<div class="t" style="top:483.60px;height:20px;line-height:20px;font-size:12.3px;color:#5d6267;left:777.72px;width:200px;text-align:center;">74</div>
<div class="t" style="top:483.60px;height:20px;line-height:20px;font-size:12.3px;color:#5d6267;left:817.56px;width:200px;text-align:center;">75</div>
<div class="t" style="top:483.60px;height:20px;line-height:20px;font-size:12.3px;color:#5d6267;left:857.40px;width:200px;text-align:center;">76</div>
<div class="t" style="top:483.60px;height:20px;line-height:20px;font-size:12.3px;color:#5d6267;left:897.24px;width:200px;text-align:center;">77</div>
<div class="t" style="top:483.60px;height:20px;line-height:20px;font-size:12.3px;color:#5d6267;left:937.08px;width:200px;text-align:center;">78</div>
<div class="t" style="top:483.60px;height:20px;line-height:20px;font-size:12.3px;color:#5d6267;left:976.92px;width:200px;text-align:center;">79</div>
<div class="t" style="top:483.60px;height:20px;line-height:20px;font-size:12.3px;color:#5d6267;left:1016.76px;width:200px;text-align:center;">80</div>
<div class="b" style="left:270.80px;top:528.00px;width:595.60px;height:294.70px;background:#fff;border:1px solid #f0f2f3;border-radius:8.5px;box-shadow:0 1px 2px rgba(30,40,50,.025);"></div>
<svg class="b" style="left:285.00px;top:545.60px;" width="16.8" height="16.8" viewBox="0 0 16.8 16.8" fill="none"><rect x="0.75" y="0.75" width="15.3" height="15.3" rx="3.9" stroke="#24282c" stroke-width="1.4"/><path d="M3 8.1 V8.7 M5.4 6.4 V10.4 M8.05 4.7 V12.1 M10.5 6.4 V10.4 M13.1 8.1 V8.7" stroke="#24282c" stroke-width="1.25" stroke-linecap="round"/></svg>
<div class="t" style="top:544.00px;height:20px;line-height:20px;font-size:14px;color:#15181b;letter-spacing:-0.07px;-webkit-text-stroke:0.25px #15181b;left:309.60px;">Meeting Durations</div>
<div class="b" style="left:773.00px;top:540.60px;width:80.20px;height:26.00px;background:#fff;border:1px solid #e3e6e9;border-radius:7px;"></div>
<div class="t" style="top:544.30px;height:20px;line-height:20px;font-size:11.8px;color:#1d2125;-webkit-text-stroke:0.2px #1d2125;left:784.40px;">See All</div>
<svg class="b" style="left:832.00px;top:549.90px;" width="10.5" height="8" viewBox="0 0 10.5 8" fill="none"><path d="M1 1.8 L5.25 6 L9.5 1.8" stroke="#24282c" stroke-width="1.3" stroke-linecap="round" stroke-linejoin="round"/></svg>
<div class="b" style="left:283.00px;top:579.60px;width:571.00px;height:32.60px;background:#f4f5f6;border-radius:7px;"></div>
<div class="t" style="top:587.00px;height:20px;line-height:20px;font-size:12px;color:#33383d;-webkit-text-stroke:0.1px #33383d;left:293.20px;">Source</div>
<svg class="b" style="left:335.60px;top:591.40px;" width="7" height="10" viewBox="0 0 7 10" fill="none"><path d="M1.7 4 L3.5 2.2 L5.3 4 M1.7 6 L3.5 7.8 L5.3 6" stroke="#4a4f55" stroke-width="0.9" stroke-linecap="round" stroke-linejoin="round"/></svg>
<div class="t" style="top:587.00px;height:20px;line-height:20px;font-size:12px;color:#33383d;-webkit-text-stroke:0.1px #33383d;left:506.40px;">Date</div>
<div class="t" style="top:587.00px;height:20px;line-height:20px;font-size:12px;color:#33383d;letter-spacing:-0.08px;-webkit-text-stroke:0.1px #33383d;left:615.40px;">Duration Time</div>
<div class="t" style="top:587.00px;height:20px;line-height:20px;font-size:12px;color:#33383d;-webkit-text-stroke:0.1px #33383d;left:724.80px;">Status</div>
<div class="t" style="top:622.80px;height:20px;line-height:20px;font-size:12px;color:#1d2125;-webkit-text-stroke:0.12px #1d2125;left:322.80px;">Your First readout</div>
<div class="t" style="top:622.80px;height:20px;line-height:20px;font-size:12.2px;color:#666b70;letter-spacing:0.1px;left:506.40px;">04/01/2025</div>
<div class="t" style="top:622.80px;height:20px;line-height:20px;font-size:12px;color:#666b70;letter-spacing:-0.1px;left:615.40px;">1:30 Hours</div>
<div class="b" style="left:724.60px;top:622.60px;width:64.80px;height:19.20px;background:#f9aa15;border-radius:5.5px;"></div>
<div class="t" style="top:623.30px;height:20px;line-height:20px;font-size:10.4px;color:#ffecb8;-webkit-text-stroke:0.3px #ffecb8;left:731.40px;">Processing</div>
<svg class="b" style="left:836.40px;top:626.20px;" width="4" height="12" viewBox="0 0 4 12" fill="none"><circle cx="2" cy="1.8" r="0.95" fill="#3a3f44"/><circle cx="2" cy="6" r="0.95" fill="#3a3f44"/><circle cx="2" cy="10.2" r="0.95" fill="#3a3f44"/></svg>
<div class="t" style="top:662.15px;height:20px;line-height:20px;font-size:12px;color:#1d2125;-webkit-text-stroke:0.12px #1d2125;left:322.80px;">Label: Marketing Strategy</div>
<div class="t" style="top:662.15px;height:20px;line-height:20px;font-size:12.2px;color:#666b70;letter-spacing:0.1px;left:506.40px;">03/01/2025</div>
<div class="t" style="top:662.15px;height:20px;line-height:20px;font-size:12px;color:#666b70;letter-spacing:-0.1px;left:615.40px;">2:30 Hours</div>
<div class="b" style="left:724.60px;top:661.95px;width:58.20px;height:19.20px;background:#12c25d;border-radius:5.5px;"></div>
<div class="t" style="top:662.65px;height:20px;line-height:20px;font-size:10.4px;color:#cdfddd;-webkit-text-stroke:0.3px #cdfddd;left:731.40px;">Complete</div>
<svg class="b" style="left:836.40px;top:665.55px;" width="4" height="12" viewBox="0 0 4 12" fill="none"><circle cx="2" cy="1.8" r="0.95" fill="#3a3f44"/><circle cx="2" cy="6" r="0.95" fill="#3a3f44"/><circle cx="2" cy="10.2" r="0.95" fill="#3a3f44"/></svg>
<div class="t" style="top:701.50px;height:20px;line-height:20px;font-size:12px;color:#1d2125;-webkit-text-stroke:0.12px #1d2125;left:322.80px;">Sample - Meeting Report</div>
<div class="t" style="top:701.50px;height:20px;line-height:20px;font-size:12.2px;color:#666b70;letter-spacing:0.1px;left:506.40px;">02/01/2025</div>
<div class="t" style="top:701.50px;height:20px;line-height:20px;font-size:12px;color:#666b70;letter-spacing:-0.1px;left:615.40px;">2:00 Hours</div>
<div class="b" style="left:724.60px;top:701.30px;width:64.80px;height:19.20px;background:#f9aa15;border-radius:5.5px;"></div>
<div class="t" style="top:702.00px;height:20px;line-height:20px;font-size:10.4px;color:#ffecb8;-webkit-text-stroke:0.3px #ffecb8;left:731.40px;">Processing</div>
<svg class="b" style="left:836.40px;top:704.90px;" width="4" height="12" viewBox="0 0 4 12" fill="none"><circle cx="2" cy="1.8" r="0.95" fill="#3a3f44"/><circle cx="2" cy="6" r="0.95" fill="#3a3f44"/><circle cx="2" cy="10.2" r="0.95" fill="#3a3f44"/></svg>
<div class="t" style="top:740.85px;height:20px;line-height:20px;font-size:12px;color:#1d2125;-webkit-text-stroke:0.12px #1d2125;left:322.80px;">Example - Meeting Summary</div>
<div class="t" style="top:740.85px;height:20px;line-height:20px;font-size:12.2px;color:#666b70;letter-spacing:0.1px;left:506.40px;">01/01/2025</div>
<div class="t" style="top:740.85px;height:20px;line-height:20px;font-size:12px;color:#666b70;letter-spacing:-0.1px;left:615.40px;">3:30 Hours</div>
<div class="b" style="left:724.60px;top:740.65px;width:58.20px;height:19.20px;background:#12c25d;border-radius:5.5px;"></div>
<div class="t" style="top:741.35px;height:20px;line-height:20px;font-size:10.4px;color:#cdfddd;-webkit-text-stroke:0.3px #cdfddd;left:731.40px;">Complete</div>
<svg class="b" style="left:836.40px;top:744.25px;" width="4" height="12" viewBox="0 0 4 12" fill="none"><circle cx="2" cy="1.8" r="0.95" fill="#3a3f44"/><circle cx="2" cy="6" r="0.95" fill="#3a3f44"/><circle cx="2" cy="10.2" r="0.95" fill="#3a3f44"/></svg>
<div class="t" style="top:780.20px;height:20px;line-height:20px;font-size:12px;color:#1d2125;letter-spacing:0.1px;-webkit-text-stroke:0.12px #1d2125;left:322.80px;">Draft - Collaboration Notes</div>
<div class="t" style="top:780.20px;height:20px;line-height:20px;font-size:12.2px;color:#666b70;letter-spacing:0.1px;left:506.40px;">31/12/2024</div>
<div class="t" style="top:780.20px;height:20px;line-height:20px;font-size:12px;color:#666b70;letter-spacing:-0.1px;left:615.40px;">1:30 Hours</div>
<div class="b" style="left:724.60px;top:780.00px;width:64.80px;height:19.20px;background:#f9aa15;border-radius:5.5px;"></div>
<div class="t" style="top:780.70px;height:20px;line-height:20px;font-size:10.4px;color:#ffecb8;-webkit-text-stroke:0.3px #ffecb8;left:731.40px;">Processing</div>
<svg class="b" style="left:836.40px;top:783.60px;" width="4" height="12" viewBox="0 0 4 12" fill="none"><circle cx="2" cy="1.8" r="0.95" fill="#3a3f44"/><circle cx="2" cy="6" r="0.95" fill="#3a3f44"/><circle cx="2" cy="10.2" r="0.95" fill="#3a3f44"/></svg>
<svg class="b" style="left:295.80px;top:627.00px;" width="14.4" height="10.8" viewBox="0 0 14.4 10.8" fill="none"><path d="M0 1.6 V10 Q0 10.8 0.8 10.8 H3.2 V4.4Z" fill="#4285f4"/><path d="M14.4 1.6 V10 Q14.4 10.8 13.6 10.8 H11.2 V4.4Z" fill="#34a853"/><path d="M3.2 4.4 V0.8 L7.2 3.9 L11.2 0.8 V4.4 L7.2 7.5Z" fill="#ea4335"/><path d="M0 1.6 Q0 0 1.6 0 Q2.2 0 2.7 0.4 L3.2 0.8 V4.4Z" fill="#c5221f"/><path d="M14.4 1.6 Q14.4 0 12.8 0 Q12.2 0 11.7 0.4 L11.2 0.8 V4.4Z" fill="#fbbc04"/></svg>
<svg class="b" style="left:293.80px;top:662.95px;" width="17.6" height="17.2" viewBox="0 0 17.6 17.2" fill="none"><rect width="17.6" height="17.2" rx="4.2" fill="#4087f6"/><rect x="3" y="5" width="8" height="7.2" rx="1.7" fill="#fff"/><path d="M11.7 7.7 L14.7 5.5 V11.7 L11.7 9.5Z" fill="#fff"/></svg>
<svg class="b" style="left:296.50px;top:704.70px;" width="12.4" height="12.4" viewBox="0 0 12.4 12.4" fill="none"><g transform="rotate(0 6.2 6.2)" fill="#36c5f0"><rect x="3.3" y="0" width="2.3" height="5.6" rx="1.15"/><path d="M0.1 4.45 a1.15 1.15 0 0 1 2.3 0 v1.15 h-1.15 a1.15 1.15 0 0 1 -1.15 -1.15Z"/></g><g transform="rotate(90 6.2 6.2)" fill="#2eb67d"><rect x="3.3" y="0" width="2.3" height="5.6" rx="1.15"/><path d="M0.1 4.45 a1.15 1.15 0 0 1 2.3 0 v1.15 h-1.15 a1.15 1.15 0 0 1 -1.15 -1.15Z"/></g><g transform="rotate(180 6.2 6.2)" fill="#ecb22e"><rect x="3.3" y="0" width="2.3" height="5.6" rx="1.15"/><path d="M0.1 4.45 a1.15 1.15 0 0 1 2.3 0 v1.15 h-1.15 a1.15 1.15 0 0 1 -1.15 -1.15Z"/></g><g transform="rotate(270 6.2 6.2)" fill="#e01e5a"><rect x="3.3" y="0" width="2.3" height="5.6" rx="1.15"/><path d="M0.1 4.45 a1.15 1.15 0 0 1 2.3 0 v1.15 h-1.15 a1.15 1.15 0 0 1 -1.15 -1.15Z"/></g></svg>
<svg class="b" style="left:293.80px;top:743.95px;" width="17.6" height="13.6" viewBox="0 0 17.6 13.6" fill="none"><g fill="#0b3038"><path d="M8.1 3.6 V13.6 H0Z"/><path d="M0 0 H8.1 A4.05 4.05 0 0 1 0 0Z"/><path d="M9.5 10 V0 H17.6Z"/><path d="M9.5 13.6 A4.05 4.05 0 0 1 17.6 13.6Z"/></g></svg>
<svg class="b" style="left:294.20px;top:780.90px;" width="17.4" height="17.4" viewBox="0 0 17.4 17.4" fill="none"><g stroke="#f4511e" stroke-width="2.5" stroke-linecap="round"><path d="M8.7 8.7 L8.7 1.7" transform="rotate(0 8.7 8.7)"/><path d="M8.7 8.7 L8.7 1.7" transform="rotate(45 8.7 8.7)"/><path d="M8.7 8.7 L8.7 1.7" transform="rotate(90 8.7 8.7)"/><path d="M8.7 8.7 L8.7 1.7" transform="rotate(135 8.7 8.7)"/><path d="M8.7 8.7 L8.7 1.7" transform="rotate(180 8.7 8.7)"/><path d="M8.7 8.7 L8.7 1.7" transform="rotate(225 8.7 8.7)"/><path d="M8.7 8.7 L8.7 1.7" transform="rotate(270 8.7 8.7)"/><path d="M8.7 8.7 L8.7 1.7" transform="rotate(315 8.7 8.7)"/></g></svg>
<div class="b" style="left:880.60px;top:528.00px;width:269.40px;height:294.70px;background:#fff;border:1px solid #f0f2f3;border-radius:8.5px;box-shadow:0 1px 2px rgba(30,40,50,.025);"></div>
<svg class="b" style="left:895.40px;top:547.00px;" width="14.6" height="14.2" viewBox="0 0 14.6 14.2" fill="none"><path d="M3.1 0.85 H12.5 Q13.75 0.85 13.75 2.1 V8.7 L9.3 13.35 H3.1 Q1.85 13.35 1.85 12.1 V2.1 Q1.85 0.85 3.1 0.85Z" stroke="#1d2125" stroke-width="1.55" stroke-linejoin="round"/><path d="M9.2 13.1 V10.3 Q9.2 8.9 10.6 8.9 H13.5" stroke="#1d2125" stroke-width="1.55" stroke-linejoin="round"/></svg>
<div class="t" style="top:543.80px;height:20px;line-height:20px;font-size:14px;color:#15181b;letter-spacing:-0.2px;-webkit-text-stroke:0.25px #15181b;left:919.40px;">Meeting Size</div>
<div class="b" style="left:1057.40px;top:541.00px;width:79.00px;height:25.80px;background:#fff;border:1px solid #e3e6e9;border-radius:7px;"></div>
<div class="t" style="top:544.60px;height:20px;line-height:20px;font-size:11.8px;color:#1d2125;-webkit-text-stroke:0.2px #1d2125;left:1068.80px;">See All</div>
<svg class="b" style="left:1116.40px;top:550.20px;" width="10.5" height="8" viewBox="0 0 10.5 8" fill="none"><path d="M1 1.8 L5.25 6 L9.5 1.8" stroke="#24282c" stroke-width="1.3" stroke-linecap="round" stroke-linejoin="round"/></svg>
<div class="b" style="left:892.60px;top:579.00px;width:243.00px;height:1.00px;background:#f0f2f3;"></div>
<div class="b" style="left:997.90px;top:588.00px;width:1.00px;height:202.00px;background:#f8f9f9;"></div>
<div class="b" style="left:1043.80px;top:588.00px;width:1.00px;height:202.00px;background:#f8f9f9;"></div>
<div class="b" style="left:1089.70px;top:588.00px;width:1.00px;height:202.00px;background:#f8f9f9;"></div>
<div class="b" style="left:952.00px;top:593.20px;width:176.20px;height:12.70px;background:#5f54ea;border-radius:1.5px;"></div>
<div class="t" style="top:589.70px;height:20px;line-height:20px;font-size:10.2px;color:#3f4449;-webkit-text-stroke:0.1px #3f4449;left:893.20px;">Design</div>
<div class="b" style="left:952.00px;top:612.90px;width:103.00px;height:12.70px;background:#5f54ea;border-radius:1.5px;"></div>
<div class="t" style="top:609.35px;height:20px;line-height:20px;font-size:10.2px;color:#3f4449;-webkit-text-stroke:0.1px #3f4449;left:893.20px;">Pixem</div>
<div class="b" style="left:952.00px;top:632.60px;width:148.80px;height:12.70px;background:#5f54ea;border-radius:1.5px;"></div>
<div class="t" style="top:629.00px;height:20px;line-height:20px;font-size:10.2px;color:#3f4449;-webkit-text-stroke:0.1px #3f4449;left:893.20px;">Pixel IT</div>
<div class="b" style="left:952.00px;top:652.30px;width:140.00px;height:12.70px;background:#5f54ea;border-radius:1.5px;"></div>
<div class="t" style="top:648.65px;height:20px;line-height:20px;font-size:10.2px;color:#3f4449;-webkit-text-stroke:0.1px #3f4449;left:893.20px;">Developer</div>
<div class="b" style="left:952.00px;top:672.00px;width:161.20px;height:12.70px;background:#5f54ea;border-radius:1.5px;"></div>
<div class="t" style="top:668.30px;height:20px;line-height:20px;font-size:10.2px;color:#3f4449;-webkit-text-stroke:0.1px #3f4449;left:893.20px;">Designer</div>
<div class="b" style="left:952.00px;top:691.70px;width:53.00px;height:12.70px;background:#0cc25a;border-radius:1.5px;"></div>
<div class="t" style="top:687.95px;height:20px;line-height:20px;font-size:10.2px;color:#3f4449;-webkit-text-stroke:0.1px #3f4449;left:893.20px;">Employee</div>
<div class="b" style="left:952.00px;top:711.40px;width:178.60px;height:12.70px;background:#0cc25a;border-radius:1.5px;"></div>
<div class="t" style="top:707.60px;height:20px;line-height:20px;font-size:10.2px;color:#3f4449;-webkit-text-stroke:0.1px #3f4449;left:893.20px;">Draft</div>
<div class="b" style="left:952.00px;top:731.10px;width:128.60px;height:12.70px;background:#0cc25a;border-radius:1.5px;"></div>
<div class="t" style="top:727.25px;height:20px;line-height:20px;font-size:10.2px;color:#3f4449;-webkit-text-stroke:0.1px #3f4449;left:893.20px;">Example</div>
<div class="b" style="left:952.00px;top:750.80px;width:166.40px;height:12.70px;background:#0cc25a;border-radius:1.5px;"></div>
<div class="t" style="top:746.90px;height:20px;line-height:20px;font-size:10.2px;color:#3f4449;-webkit-text-stroke:0.1px #3f4449;left:893.20px;">My Team</div>
<div class="b" style="left:952.00px;top:770.50px;width:140.60px;height:12.70px;background:#0cc25a;border-radius:1.5px;"></div>
<div class="t" style="left:893.2px;top:770.3px;font-size:10.2px;line-height:13.2px;color:#3f4449;-webkit-text-stroke:0.1px #3f4449">My<br>Meeting</div>
<div class="t" style="top:792.20px;height:20px;line-height:20px;font-size:10.4px;color:#5d6267;left:852.00px;width:200px;text-align:center;">0</div>
<div class="t" style="top:792.20px;height:20px;line-height:20px;font-size:10.4px;color:#5d6267;left:897.90px;width:200px;text-align:center;">10</div>
<div class="t" style="top:792.20px;height:20px;line-height:20px;font-size:10.4px;color:#5d6267;left:943.80px;width:200px;text-align:center;">20</div>
<div class="t" style="top:792.20px;height:20px;line-height:20px;font-size:10.4px;color:#5d6267;left:989.70px;width:200px;text-align:center;">30</div>
<div class="t" style="top:792.20px;height:20px;line-height:20px;font-size:10.4px;color:#5d6267;left:1035.60px;width:200px;text-align:center;">40</div>
<div class="b" style="left:1024.60px;top:638.80px;width:91.00px;height:27.00px;background:#fff;border-radius:6px;box-shadow:0 1px 4px rgba(30,40,50,.13),0 0 0 0.6px rgba(30,40,50,.09);"></div>
<svg class="b" style="left:1100.00px;top:665.00px;" width="10" height="6" viewBox="0 0 10 6" fill="none"><path d="M0.5 0 L5 4.4 L9.5 0Z" fill="#fff"/></svg>
<div class="t" style="top:643.00px;height:20px;line-height:20px;font-size:10px;color:#23272b;left:1031.80px;">Size=&nbsp; 35 People</div>
<svg class="b" style="left:1101.40px;top:675.00px;" width="8" height="8" viewBox="0 0 8 8" fill="none"><circle cx="4" cy="4" r="3" fill="#fff" stroke="#2a7de1" stroke-width="1"/><circle cx="4" cy="4" r="1.2" fill="#2a7de1"/></svg>
<svg class="b" style="left:1102.20px;top:678.20px;overflow:visible;" width="13" height="15" viewBox="0 0 13 15" fill="none"><g transform="rotate(-22 5 1)"><path d="M4.2 1.2 Q4.2 0.4 5 0.4 Q5.8 0.4 5.8 1.2 V5.6 L6 5 Q6.8 4.6 7.4 5.4 Q8.2 4.8 8.9 5.8 Q9.8 5.4 10.4 6.4 Q11 8 10.6 10.4 Q10.4 11.6 10 12.4 V13.8 H5.2 V12.6 Q3.4 10.8 2.2 8.6 Q1.8 7.6 2.6 7.4 Q3.4 7.4 4.2 8.6Z" fill="#fff" stroke="#16191c" stroke-width="0.9" stroke-linejoin="round"/><path d="M6.4 9.4 V11.6 M7.8 9.4 V11.6 M9.2 9.4 V11.6" stroke="#16191c" stroke-width="0.6"/></g></svg>
</div></div>
</body></html>
